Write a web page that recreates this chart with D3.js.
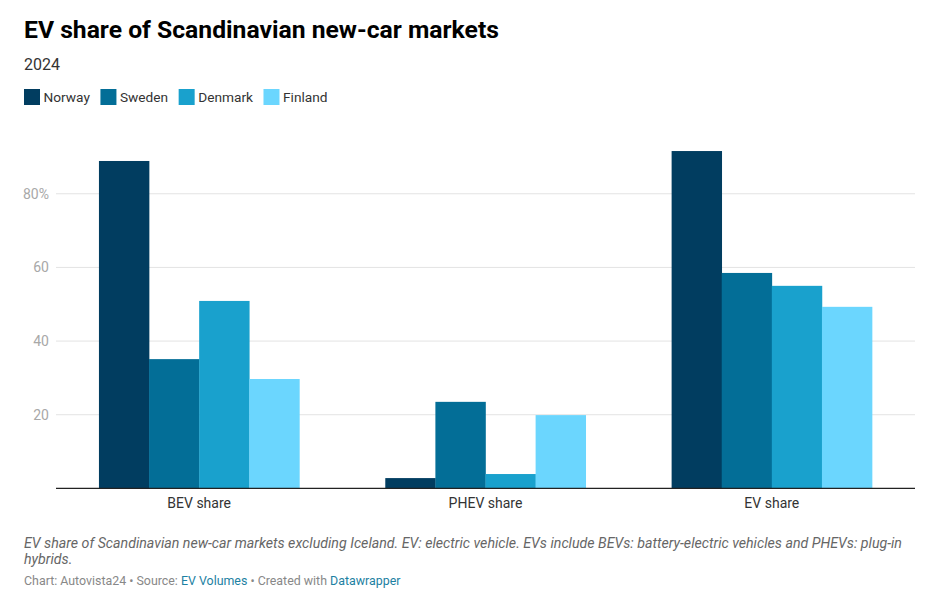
<!DOCTYPE html>
<html>
<head>
<meta charset="utf-8">
<script src="https://cdn.jsdelivr.net/npm/d3@7"></script>
<style>
  body { margin: 0; background: #fff; font-family: Roboto, sans-serif; }
  svg text { font-family: Roboto, sans-serif; }
</style>
</head>
<body>
<div id="chart"></div>
<script>
// data
var categories = ['BEV share', 'PHEV share', 'EV share'];
var countries = ['Norway', 'Sweden', 'Denmark', 'Finland'];
var norway = [88.9, 2.8, 91.6];
var sweden = [35.1, 23.5, 58.5];
var denmark = [50.9, 3.9, 55.0];
var finland = [29.7, 19.9, 49.3];
var yTicks = [20, 40, 60, 80];
var colors = ['#013d60', '#036e97', '#19a1cd', '#6bd6fe'];

var series = [norway, sweden, denmark, finland];
var rows = categories.map(function(c, i) {
  return { cat: c, values: countries.map(function(k, j) { return { country: k, value: series[j][i] }; }) };
});

var W = 951, H = 603;
var m = { top: 118, left: 56, right: 36, bottom: 115 };

var svg = d3.select('#chart').append('svg')
  .attr('width', W)
  .attr('height', H);

// header
svg.append('text').attr('x', 24).attr('y', 38)
  .attr('font-size', 24.7).attr('font-weight', 700).attr('fill', '#000')
  .text('EV share of Scandinavian new-car markets');
svg.append('text').attr('x', 24).attr('y', 70)
  .attr('font-size', 16).attr('fill', '#333')
  .text('2024');

// legend
var lx = 24;
countries.forEach(function(c, i) {
  svg.append('rect').attr('x', lx).attr('y', 89).attr('width', 16).attr('height', 16).attr('fill', colors[i]);
  var t = svg.append('text').attr('x', lx + 19.5).attr('y', 102)
    .attr('font-size', 13.7).attr('fill', '#333').text(c);
  lx += 19.5 + t.node().getComputedTextLength() + 10.5;
});

// scales
var x0 = d3.scaleBand().domain(categories)
  .range([m.left, W - m.right])
  .paddingInner(0.3).paddingOuter(0.15);
var x1 = d3.scaleBand().domain(countries).range([0, x0.bandwidth()]);
var y = d3.scaleLinear().domain([0, 100]).range([488.4, 488.4 - 368.3]);
var color = d3.scaleOrdinal().domain(countries).range(colors);

// grid
var g = svg.append('g');
g.selectAll('.grid').data(yTicks).enter().append('line')
  .attr('x1', m.left).attr('x2', W - m.right)
  .attr('y1', function(d) { return y(d); }).attr('y2', function(d) { return y(d); })
  .attr('stroke', '#e3e3e3').attr('stroke-width', 1);
g.selectAll('.ylab').data(yTicks).enter().append('text')
  .attr('x', 49).attr('y', function(d) { return y(d) + 5; })
  .attr('text-anchor', 'end').attr('font-size', 14).attr('fill', '#a8a8a8')
  .text(function(d) { return d === 80 ? '80%' : d; });

// bars
var groups = svg.selectAll('.group').data(rows).enter().append('g')
  .attr('transform', function(d) { return 'translate(' + x0(d.cat) + ',0)'; });
groups.selectAll('rect').data(function(d) { return d.values; }).enter().append('rect')
  .attr('x', function(d) { return x1(d.country); })
  .attr('width', x1.bandwidth() + 0.3)
  .attr('y', function(d) { return y(d.value); })
  .attr('height', function(d) { return y(0) - y(d.value); })
  .attr('fill', function(d) { return color(d.country); });

// baseline
svg.append('line').attr('x1', m.left).attr('x2', W - m.right)
  .attr('y1', y(0)).attr('y2', y(0))
  .attr('stroke', '#222').attr('stroke-width', 1.3);

// x labels
svg.selectAll('.xlab').data(categories).enter().append('text')
  .attr('x', function(d) { return x0(d) + x0.bandwidth() / 2; })
  .attr('y', 508).attr('text-anchor', 'middle')
  .attr('font-size', 14).attr('fill', '#333')
  .text(function(d) { return d; });

// notes
svg.append('text').attr('x', 24).attr('y', 548)
  .attr('font-size', 14.2).attr('font-style', 'italic').attr('fill', '#666')
  .text('EV share of Scandinavian new-car markets excluding Iceland. EV: electric vehicle. EVs include BEVs: battery-electric vehicles and PHEVs: plug-in');
svg.append('text').attr('x', 24).attr('y', 564)
  .attr('font-size', 14.2).attr('font-style', 'italic').attr('fill', '#666')
  .text('hybrids.');

var credit = svg.append('text').attr('x', 24).attr('y', 585)
  .attr('font-size', 12.4).attr('fill', '#888');
credit.append('tspan').text('Chart: Autovista24 • Source: ');
credit.append('tspan').attr('fill', '#1d81a2').text('EV Volumes');
credit.append('tspan').text(' • Created with ');
credit.append('tspan').attr('fill', '#1d81a2').text('Datawrapper');
</script>
</body>
</html>
